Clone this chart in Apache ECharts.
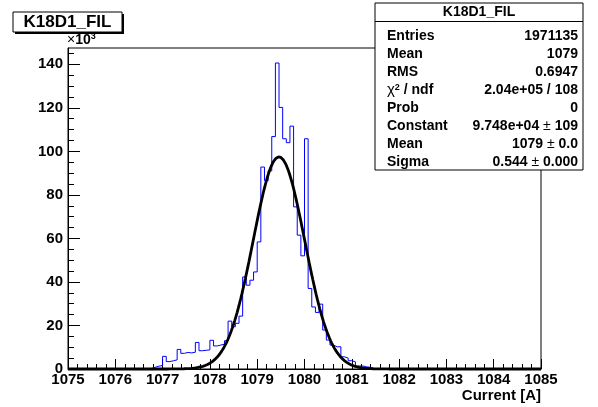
<!DOCTYPE html>
<html><head><meta charset="utf-8">
<script src="https://cdn.jsdelivr.net/npm/echarts@6/dist/echarts.min.js"></script>
<style>html,body{margin:0;padding:0;background:#fff}#c{width:598px;height:407px}</style>
</head><body><div id="c"></div>
<script>
// ---- data ----
const xMin = 1075, xMax = 1085, nBins = 130;
// bin contents in thousands (x10^3), bins 0..129
const binCounts = [
  0,0,0,0,0,0,0,0,0,0,
  0,0,0,0,0,0,0,0,0,0,
  0,0,0.2,0.8,1.3,1.6,5.8,3.4,3.8,4.2,
  9.0,7.2,7.6,7.4,7.7,12.2,8.4,8.6,8.8,13.2,
  10.6,11.0,11.4,13.0,22.0,19.4,21.0,24.3,42.3,38.5,
  40.8,44.6,58.4,92.8,86.5,91.0,106.8,140.6,120.2,105.8,
  104.0,111.6,74.5,61.5,52.0,105.8,37.0,28.5,26.0,29.8,
  17.9,13.3,11.0,10.2,10.2,5.6,5.0,3.8,3.3,1.4,
  1.4,1.0,0.8,0.3,0,0,0,0,0,0,
  0,0,0,0,0,0,0,0,0,0,
  0,0,0,0,0,0,0,0,0,0,
  0,0,0,0,0,0,0,0,0,0,
  0,0,0,0,0,0,0,0,0,0
];
const xTicks = [1075,1076,1077,1078,1079,1080,1081,1082,1083,1084,1085];
const yTicks = [0,20,40,60,80,100,120,140];
const yMinorTicks = [5,10,15,25,30,35,45,50,55,65,70,75,85,90,95,105,110,115,125,130,135,145];
const yMax = 147.5;
// Gaussian fit parameters (constant in x10^3)
const fitConstant = 97.48, fitMean = 1079.46, fitSigma = 0.544;
const titleText = 'K18D1_FIL';
const statsLabels = ['Entries','Mean','RMS','{chi|χ}{sup|2}{n| / ndf}','Prob','Constant','Mean','Sigma'];
const statsValues = ['1971135','1079','0.6947','2.04e+05 / 108','0','{n|9.748e+04 }{pm|±}{n| 109}','{n|1079 }{pm|±}{n| 0.0}','{n|0.544 }{pm|±}{n| 0.000}'];

// ---- build ----
const bw = (xMax - xMin) / nBins;
const histData = binCounts.map((v, k) => [xMin + k * bw, v]);
histData.push([xMax, binCounts[nBins - 1]]);
const fitData = [];
const nFit = 400;
for (let i = 0; i <= nFit; i++) {
  const x = xMin + (xMax - xMin) * i / nFit;
  fitData.push([x, fitConstant * Math.exp(-0.5 * Math.pow((x - fitMean) / fitSigma, 2))]);
}

const FONT = 'Liberation Sans, Arial, sans-serif';
const chart = echarts.init(document.getElementById('c'), null, {renderer: 'canvas'});

const statsGraphics = [];
const bx = 375, by = 3, bwid = 208, bh = 167;
statsGraphics.push({type: 'rect', shape: {x: bx, y: by, width: bwid, height: bh}, style: {fill: '#fff', stroke: '#000', lineWidth: 1}, z: 100});
statsGraphics.push({type: 'line', shape: {x1: bx, y1: 21.5, x2: bx + bwid, y2: 21.5}, style: {stroke: '#000', lineWidth: 1}, z: 101});
statsGraphics.push({type: 'text', x: bx + bwid / 2, y: 12.5, style: {text: titleText, font: 'bold 14px ' + FONT, fill: '#000', align: 'center', verticalAlign: 'middle'}, z: 101});
const rich = {
  chi: {font: '15px ' + FONT, fill: '#000'},
  sup: {font: 'bold 9px ' + FONT, fill: '#000', verticalAlign: 'top', padding: [0, 0, 6, 0]},
  n: {font: 'bold 14px ' + FONT, fill: '#000'},
  pm: {font: '14px ' + FONT, fill: '#000'}
};
statsLabels.forEach((t, i) => {
  statsGraphics.push({type: 'text', x: 387, y: 36 + i * 18.05, style: {
    text: t, font: 'bold 14px ' + FONT, fill: '#000', align: 'left', verticalAlign: 'middle', rich: rich}, z: 101});
  statsGraphics.push({type: 'text', x: 578, y: 36 + i * 18.05, style: {
    text: statsValues[i], font: 'bold 14px ' + FONT, fill: '#000', align: 'right', verticalAlign: 'middle', rich: rich}, z: 101});
});

const option = {
  animation: false,
  backgroundColor: '#fff',
  grid: {left: 68, right: 57, top: 48, bottom: 38, show: true, borderColor: '#000', borderWidth: 1, backgroundColor: '#fff', containLabel: false},
  xAxis: {
    type: 'value', min: xMin, max: xMax, interval: 1,
    axisLine: {show: true, onZero: false, lineStyle: {color: '#000', width: 1}},
    axisTick: {show: true, inside: true, length: 10, lineStyle: {color: '#000'}},
    minorTick: {show: true, splitNumber: 5, length: 5, lineStyle: {color: '#000'}},
    splitLine: {show: false},
    axisLabel: {customValues: xTicks, formatter: v => String(v), color: '#000', fontFamily: FONT, fontWeight: 'bold', fontSize: 15, margin: 3}
  },
  yAxis: [{
    type: 'value', min: 0, max: yMax, position: 'left',
    axisLine: {show: true, lineStyle: {color: '#000', width: 1}},
    axisTick: {show: true, inside: true, length: 12, customValues: yTicks, lineStyle: {color: '#000'}},
    splitLine: {show: false},
    axisLabel: {customValues: yTicks, formatter: v => String(v), color: '#000', fontFamily: FONT, fontWeight: 'bold', fontSize: 15, margin: 5}
  }, {
    type: 'value', min: 0, max: yMax, position: 'left', offset: 0,
    axisLine: {show: false},
    axisTick: {show: true, inside: true, length: 6, customValues: yMinorTicks, lineStyle: {color: '#000'}},
    splitLine: {show: false},
    axisLabel: {show: false}
  }],
  series: [{
    type: 'line', step: 'end', data: histData, yAxisIndex: 0, symbol: 'none',
    lineStyle: {color: '#0000ff', width: 1}, z: 2, clip: true
  }, {
    type: 'line', data: fitData, yAxisIndex: 0, symbol: 'none', smooth: false,
    lineStyle: {color: '#000', width: 2.8}, z: 3, clip: false
  }],
  graphic: [
    {type: 'rect', shape: {x: 15, y: 14, width: 109, height: 20}, style: {fill: '#000'}, z: 100},
    {type: 'rect', shape: {x: 13, y: 12, width: 109, height: 20}, style: {fill: '#fff', stroke: '#000', lineWidth: 1}, z: 101},
    {type: 'text', x: 67.5, y: 22.5, style: {text: titleText, font: 'bold 17px ' + FONT, fill: '#000', align: 'center', verticalAlign: 'middle'}, z: 102},
    {type: 'text', x: 67, y: 40, style: {text: '{x|×}{a|10}{b|3}', verticalAlign: 'middle', rich: {
      x: {font: '14px ' + FONT, fill: '#000'},
      a: {font: 'bold 14px ' + FONT, fill: '#000'}, b: {font: 'bold 9px ' + FONT, fill: '#000', verticalAlign: 'top', padding: [0, 0, 7, 0]}}}, z: 102},
    {type: 'text', x: 541, y: 396, style: {text: 'Current [A]', font: 'bold 15px ' + FONT, fill: '#000', align: 'right', verticalAlign: 'middle'}, z: 102}
  ].concat(statsGraphics)
};
chart.setOption(option);
</script></body></html>
